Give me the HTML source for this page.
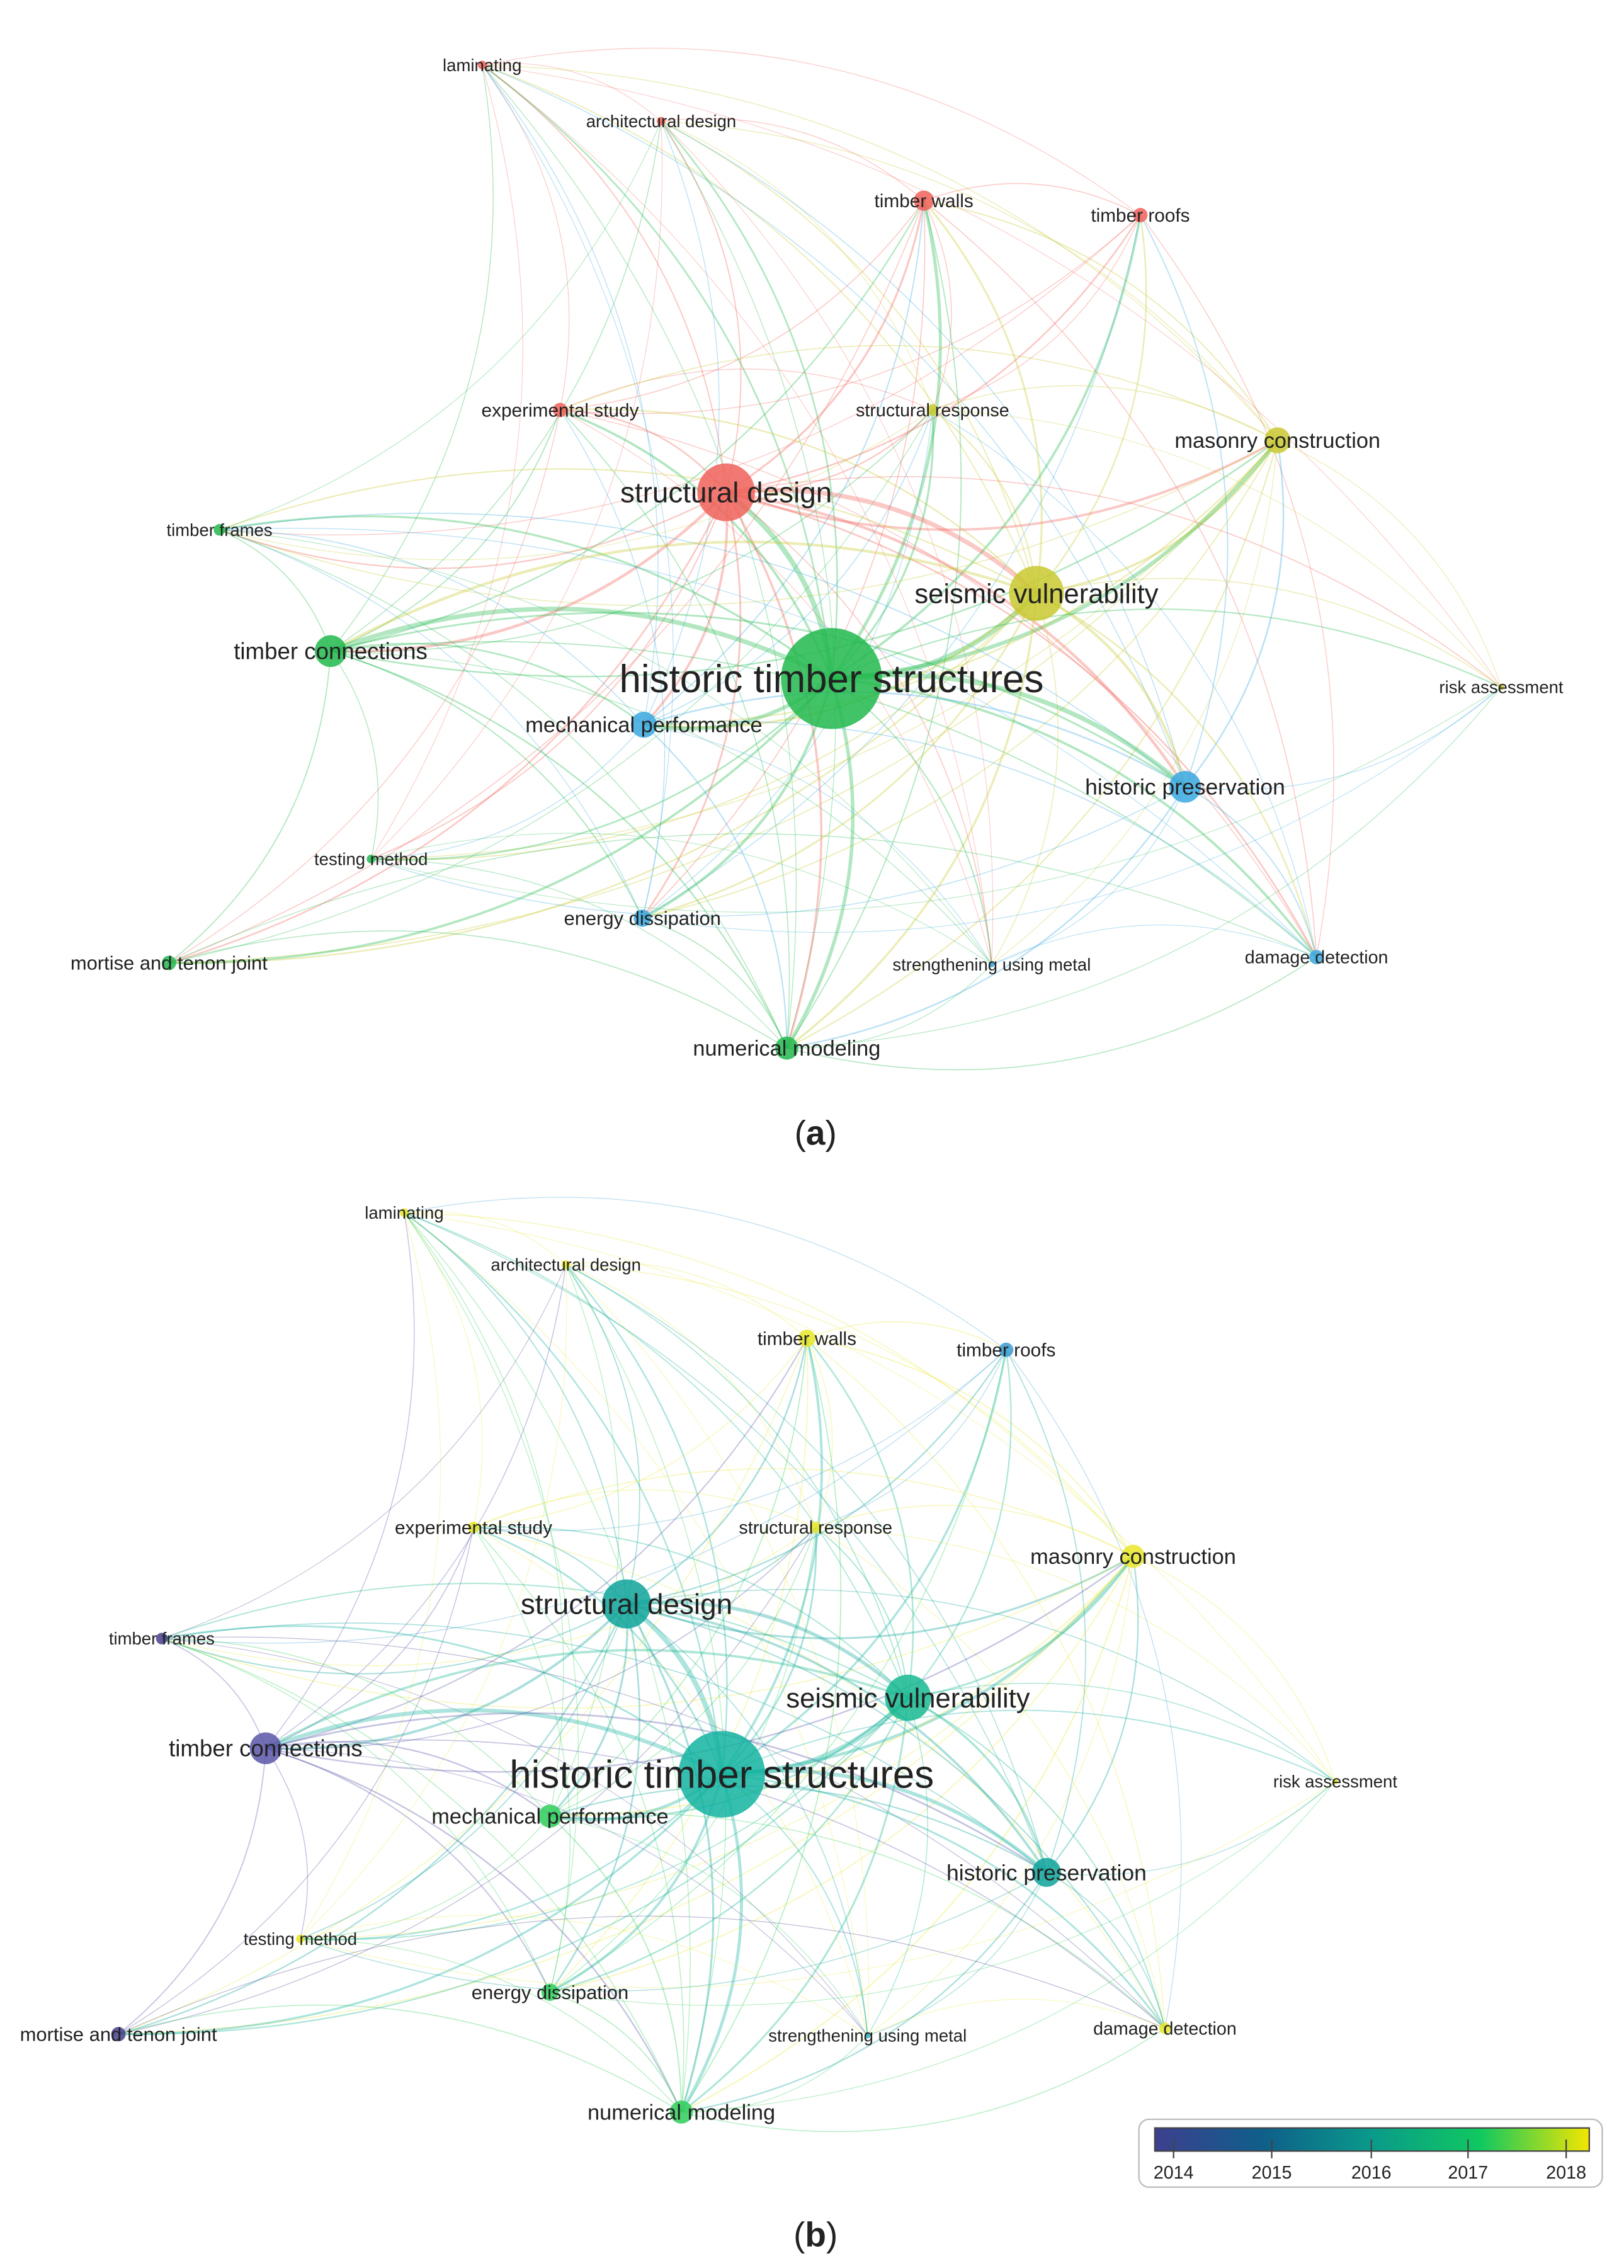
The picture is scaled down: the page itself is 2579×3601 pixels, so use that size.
<!DOCTYPE html>
<html><head><meta charset="utf-8"><style>
html,body{margin:0;padding:0;background:#fff}
svg{display:block}
text{font-family:"Liberation Sans",sans-serif;fill:#222}
</style></head><body>
<svg id="s" xmlns="http://www.w3.org/2000/svg" width="2579" height="3601" viewBox="0 0 1125 1571">
<rect width="1125" height="1571" fill="#fff"/>
<g id="edges"></g><g id="nodes"></g><g id="labels"></g>
<defs><linearGradient id="yr" x1="0" x2="1"><stop offset="0" stop-color="#3d3f8f"/><stop offset="0.25" stop-color="#0f5f8a"/><stop offset="0.5" stop-color="#0a9a8a"/><stop offset="0.75" stop-color="#10c860"/><stop offset="1" stop-color="#f4e600"/></linearGradient></defs>
<rect x="789" y="1468" width="321" height="47" rx="7" fill="#fff" stroke="#bbb" stroke-width="1"/>
<rect x="800" y="1474" width="301" height="16" fill="url(#yr)" stroke="#444" stroke-width="1"/>
<g stroke="#444" stroke-width="1"><line x1="813" y1="1482" x2="813" y2="1495"/><line x1="881" y1="1482" x2="881" y2="1495"/><line x1="950" y1="1482" x2="950" y2="1495"/><line x1="1017" y1="1482" x2="1017" y2="1495"/><line x1="1085" y1="1482" x2="1085" y2="1495"/></g>
<g font-size="12.5" text-anchor="middle"><text x="813" y="1509">2014</text><text x="881" y="1509">2015</text><text x="950" y="1509">2016</text><text x="1017" y="1509">2017</text><text x="1085" y="1509">2018</text></g>
<text x="565" y="793" font-size="24" text-anchor="middle" font-family="Liberation Serif">(<tspan font-weight="bold">a</tspan>)</text>
<text x="565" y="1556" font-size="24" text-anchor="middle" font-family="Liberation Serif">(<tspan font-weight="bold">b</tspan>)</text>
</svg>
<script>
var R='#f0625a',G='#22b94e',B='#3aa8e0',Y='#c9c930';
var y14='#46408c',y15='#1f6a8e',y16='#0fa39a',y165='#12b88a',y17='#2fce5a',y18='#e8e62a';
var N=[
["laminating",334,45,3,R,280,840,3,y18,12],
["architectural design",458,84,3,R,392,876,3,y18,12],
["timber walls",640,139,7,R,559,927,6,y18,13],
["timber roofs",790,149,5,R,697,935,5,'#3a9ad0',13],
["experimental study",388,284,5,R,328,1058,4,y18,13],
["structural response",646,284,4,Y,565,1058,4,y18,12.5],
["masonry construction",885,305,9,Y,785,1078,8,y18,15],
["structural design",503,341,20,R,434,1111,17,y16,20],
["timber frames",152,367,4,G,112,1135,4,y14,12],
["timber connections",229,451,11,G,184,1211,11,'#5a56a8',16],
["seismic vulnerability",718,411,19,Y,629,1176,16,'#17b890',19],
["historic timber structures",576,470,35,G,500,1229,30,'#13b3a0',27],
["risk assessment",1040,476,2,Y,925,1234,2,y18,12],
["mechanical performance",446,502,9,B,381,1258,8,y17,15],
["historic preservation",821,545,11,B,725,1297,10,y16,15.5],
["testing method",257,595,3,G,208,1343,3,y18,12],
["energy dissipation",445,636,6,B,381,1380,6,y17,13.5],
["mortise and tenon joint",117,667,5,G,82,1409,5,y14,13.5],
["strengthening using metal",687,668,2,B,601,1410,2,'#3ab0c0',12],
["damage detection",912,663,5,B,807,1405,4,y18,12.5],
["numerical modeling",545,726,8,G,472,1463,8,y17,15]
];
var ns='http://www.w3.org/2000/svg';
function el(t,a,p){var e=document.createElementNS(ns,t);for(var k in a)e.setAttribute(k,a[k]);document.getElementById(p).appendChild(e);return e;}
function hash(i,j){var h=(i*73856093)^(j*19349663);h=(h>>>0)%1000;return h/1000;}
[0,1].forEach(function(p){
 var o=p*4;
 for(var i=0;i<N.length;i++)for(var j=i+1;j<N.length;j++){
  var a=N[i],b=N[j];
  var ri=a[3+o],rj=b[3+o];
  var big=Math.max(ri,rj),small=Math.min(ri,rj);
  if(small<4&&big<8&&hash(i,j)<0.6)continue;
  if(hash(i,j)<0.15&&big<15)continue;
  var x1=a[1+o],y1=a[2+o],x2=b[1+o],y2=b[2+o];
  var dx=x2-x1,dy=y2-y1;
  var cx=(x1+x2)/2+dy*0.22,cy=(y1+y2)/2-dx*0.22;
  var col=(ri>=rj?a:b)[4+o];
  var w=Math.min(3.5,0.4+(ri*rj)/140);
  el('path',{d:'M'+x1+' '+y1+' Q'+cx+' '+cy+' '+x2+' '+y2,fill:'none',stroke:col,'stroke-width':w,'stroke-opacity':0.35},'edges');
 }
 N.forEach(function(n){
  el('circle',{cx:n[1+o],cy:n[2+o],r:n[3+o],fill:n[4+o],'fill-opacity':0.85},'nodes');
  var t=el('text',{x:n[1+o],y:n[2+o]+n[9]*0.35,'font-size':n[9],'text-anchor':'middle'},'labels');
  t.textContent=n[0];
 });
});
</script>
</body></html>
